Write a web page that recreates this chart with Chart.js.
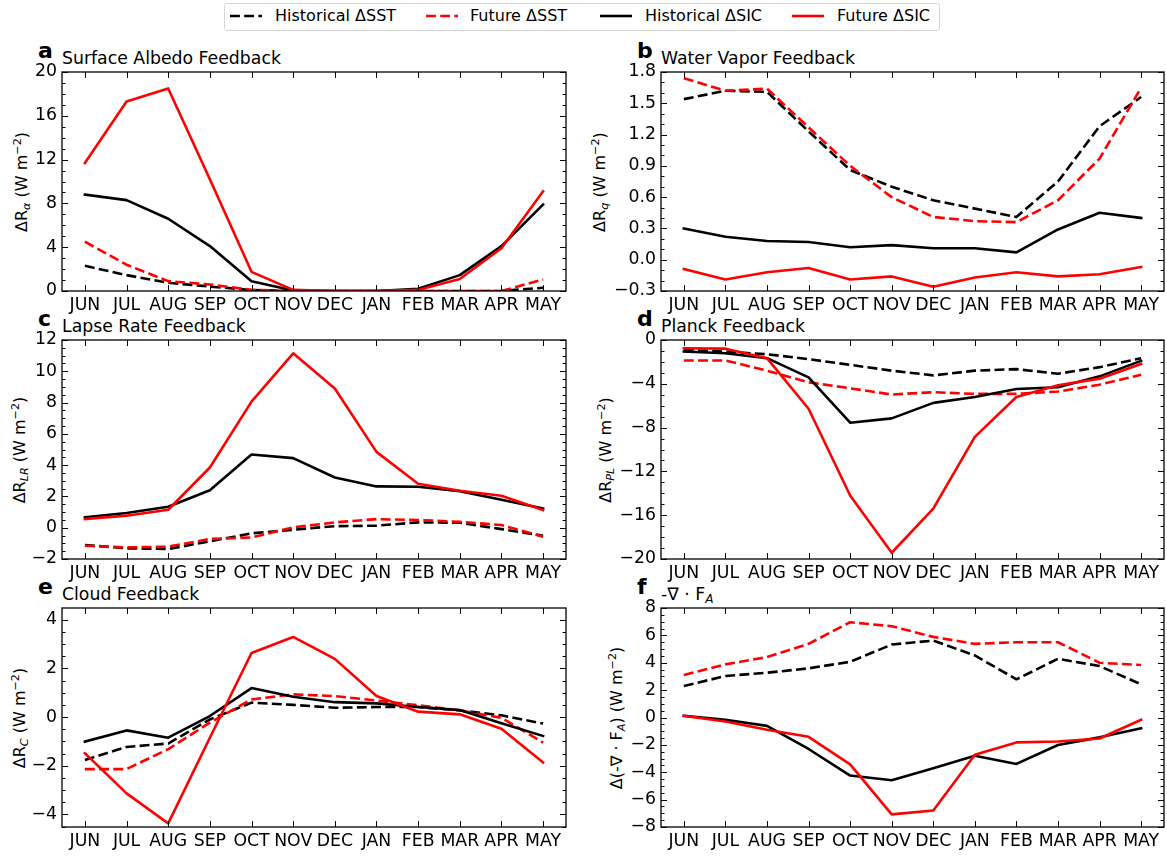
<!DOCTYPE html>
<html>
<head>
<meta charset="utf-8">
<script src="https://cdn.jsdelivr.net/npm/chart.js@4.4.0/dist/chart.umd.min.js"></script>
<style>
  body { margin: 0; width: 1167px; height: 856px; background: #fff; position: relative; overflow: hidden; font-family: "DejaVu Sans", sans-serif; color: #000; }
  canvas { position: absolute; }
  .txt { position: absolute; white-space: nowrap; line-height: 1; }
  .letter { font-size: 22px; font-weight: bold; }
  .title { font-size: 17.3px; }
  .ylab { position: absolute; font-size: 16px; line-height: 1; white-space: nowrap; transform: translate(-50%, -50%) rotate(-90deg); }
  sub { font-size: 70%; vertical-align: -0.28em; line-height: 0; }
  sup { font-size: 70%; vertical-align: 0.5em; line-height: 0; }
  .legend { position: absolute; left: 224px; top: 3px; width: 716px; height: 28px; box-sizing: border-box; border: 1px solid #d4d4d4; border-radius: 3px; }
  .leg { font-size: 16px; }
  svg.handle { position: absolute; }
</style>
</head>
<body>

<!-- legend -->
<div class="legend"></div>
<svg class="handle" style="left:229px;top:11px" width="34" height="10"><line x1="1" y1="5" x2="33" y2="5" stroke="#000" stroke-width="2.6" stroke-dasharray="9.9 4.3"/></svg>
<span class="txt leg" style="left:275px;top:7.5px">Historical ΔSST</span>
<svg class="handle" style="left:425px;top:11px" width="34" height="10"><line x1="1" y1="5" x2="33" y2="5" stroke="#f00" stroke-width="2.6" stroke-dasharray="9.9 4.3"/></svg>
<span class="txt leg" style="left:470px;top:7.5px">Future ΔSST</span>
<svg class="handle" style="left:599px;top:11px" width="34" height="10"><line x1="1" y1="5" x2="33" y2="5" stroke="#000" stroke-width="2.6"/></svg>
<span class="txt leg" style="left:645px;top:7.5px">Historical ΔSIC</span>
<svg class="handle" style="left:791px;top:11px" width="34" height="10"><line x1="1" y1="5" x2="33" y2="5" stroke="#f00" stroke-width="2.6"/></svg>
<span class="txt leg" style="left:837px;top:7.5px">Future ΔSIC</span>

<!-- panel letters and titles -->
<span class="txt letter" style="left:38px;top:40px">a</span>
<span class="txt title" style="left:62px;top:50px">Surface Albedo Feedback</span>
<span class="txt letter" style="left:637px;top:40px">b</span>
<span class="txt title" style="left:661px;top:50px">Water Vapor Feedback</span>
<span class="txt letter" style="left:38px;top:308px">c</span>
<span class="txt title" style="left:62px;top:318px">Lapse Rate Feedback</span>
<span class="txt letter" style="left:637px;top:308px">d</span>
<span class="txt title" style="left:661px;top:318px">Planck Feedback</span>
<span class="txt letter" style="left:38px;top:576px">e</span>
<span class="txt title" style="left:62px;top:586px">Cloud Feedback</span>
<span class="txt letter" style="left:637px;top:576px">f</span>
<span class="txt title" style="left:661px;top:586px">-∇ · F<sub><i>A</i></sub></span>

<!-- y axis labels -->
<div class="ylab" style="left:22px;top:181.5px">ΔR<sub><i>α</i></sub> (W m<sup>−2</sup>)</div>
<div class="ylab" style="left:600px;top:181.5px">ΔR<sub><i>q</i></sub> (W m<sup>−2</sup>)</div>
<div class="ylab" style="left:20px;top:449.5px">ΔR<sub><i>LR</i></sub> (W m<sup>−2</sup>)</div>
<div class="ylab" style="left:606px;top:449.5px">ΔR<sub><i>PL</i></sub> (W m<sup>−2</sup>)</div>
<div class="ylab" style="left:20px;top:717.5px">ΔR<sub><i>C</i></sub> (W m<sup>−2</sup>)</div>
<div class="ylab" style="left:617px;top:717.5px">Δ(-∇ · F<sub><i>A</i></sub>) (W m<sup>−2</sup>)</div>

<script>
// months on the x axis
const MONTHS = ['JUN', 'JUL', 'AUG', 'SEP', 'OCT', 'NOV', 'DEC', 'JAN', 'FEB', 'MAR', 'APR', 'MAY'];

// a - surface albedo feedback
const albedoHistSST = [2.3, 1.45, 0.75, 0.4, 0.1, 0, 0, 0, 0, 0, 0, 0.3];
const albedoFutSST  = [4.5, 2.4, 0.9, 0.6, 0.1, 0, 0, 0, 0, 0, 0, 1.05];
const albedoHistSIC = [8.8, 8.3, 6.6, 4.1, 0.9, 0.05, 0, 0, 0.2, 1.45, 4.1, 7.9];
const albedoFutSIC  = [11.7, 17.3, 18.5, 10.2, 1.75, 0.1, 0, 0, 0.1, 1.1, 3.9, 9.1];

// b - water vapor feedback
const vaporHistSST = [1.54, 1.62, 1.61, 1.23, 0.86, 0.70, 0.57, 0.49, 0.41, 0.75, 1.28, 1.56];
const vaporFutSST  = [1.74, 1.62, 1.64, 1.27, 0.90, 0.60, 0.41, 0.37, 0.36, 0.57, 0.97, 1.65];
const vaporHistSIC = [0.30, 0.22, 0.18, 0.17, 0.12, 0.14, 0.11, 0.11, 0.07, 0.29, 0.45, 0.40];
const vaporFutSIC  = [-0.09, -0.19, -0.12, -0.08, -0.19, -0.16, -0.26, -0.17, -0.12, -0.16, -0.14, -0.07];

// c - lapse rate feedback
const lapseHistSST = [-1.1, -1.32, -1.36, -0.87, -0.36, -0.13, 0.1, 0.13, 0.34, 0.32, -0.09, -0.51];
const lapseFutSST  = [-1.15, -1.26, -1.21, -0.72, -0.62, 0.02, 0.34, 0.55, 0.49, 0.38, 0.17, -0.57];
const lapseHistSIC = [0.66, 0.94, 1.34, 2.4, 4.68, 4.45, 3.21, 2.64, 2.62, 2.34, 1.79, 1.23];
const lapseFutSIC  = [0.55, 0.77, 1.15, 3.85, 8.06, 11.15, 8.9, 4.85, 2.81, 2.36, 2.04, 1.13];

// d - planck feedback
const planckHistSST = [-0.9, -1.06, -1.3, -1.75, -2.27, -2.8, -3.23, -2.8, -2.66, -3.08, -2.48, -1.66];
const planckFutSST  = [-1.87, -1.87, -2.8, -3.87, -4.41, -4.98, -4.77, -4.92, -4.92, -4.71, -4.08, -3.17];
const planckHistSIC = [-1.06, -1.21, -1.66, -3.41, -7.55, -7.16, -5.74, -5.2, -4.47, -4.32, -3.32, -1.9];
const planckFutSIC  = [-0.76, -0.79, -1.66, -6.28, -14.2, -19.43, -15.4, -8.85, -5.2, -4.14, -3.53, -2.18];

// e - cloud feedback
const cloudHistSST = [-1.77, -1.23, -1.09, -0.1, 0.59, 0.5, 0.38, 0.41, 0.41, 0.27, 0.07, -0.27];
const cloudFutSST  = [-2.14, -2.14, -1.32, -0.23, 0.72, 0.93, 0.86, 0.68, 0.48, 0.27, -0.03, -1.05];
const cloudHistSIC = [-1.01, -0.55, -0.85, 0.04, 1.19, 0.83, 0.61, 0.56, 0.41, 0.29, -0.26, -0.78];
const cloudFutSIC  = [-1.49, -3.14, -4.37, -0.85, 2.63, 3.29, 2.39, 0.86, 0.22, 0.11, -0.48, -1.87];

// f - atmospheric heat convergence
const convHistSST = [2.3, 3.03, 3.27, 3.59, 4.07, 5.33, 5.62, 4.53, 2.79, 4.29, 3.76, 2.42];
const convFutSST  = [3.1, 3.88, 4.41, 5.38, 6.96, 6.67, 5.89, 5.38, 5.5, 5.5, 4.0, 3.83];
const convHistSIC = [0.12, -0.17, -0.61, -2.3, -4.24, -4.58, -3.71, -2.79, -3.39, -2.01, -1.45, -0.78];
const convFutSIC  = [0.12, -0.29, -0.9, -1.41, -3.42, -7.08, -6.79, -2.72, -1.82, -1.75, -1.53, -0.17];

// y axis limits / ticks per panel (a..f)
const Y_MIN   = [0, -0.3, -2, -20, -4.52, -8];
const Y_MAX   = [20, 1.8, 12, 0, 4.48, 8];
const Y_STEP  = [4, 0.3, 2, 4, 2, 2];
const Y_MINOR = [1, 0.1, 0.5, 1, 0.5, 0.5];
const Y_DEC   = [0, 1, 0, 0, 0, 0];

Chart.defaults.font.family = 'DejaVu Sans';
Chart.defaults.color = '#000';

const DASH = [9.9, 4.3];

// matplotlib-ish box with inward ticks on all sides
const boxTicks = {
  id: 'boxTicks',
  afterDraw(chart, args, opts) {
    const { ctx, chartArea: a, scales: { x, y } } = chart;
    ctx.save();
    ctx.strokeStyle = '#000';
    ctx.lineWidth = 1;
    ctx.beginPath();
    x.ticks.forEach(t => {
      const px = Math.round(x.getPixelForValue(t.value)) + 0.5;
      ctx.moveTo(px, a.bottom); ctx.lineTo(px, a.bottom - 6);
      ctx.moveTo(px, a.top); ctx.lineTo(px, a.top + 6);
    });
    const m = opts.minor;
    for (let k = Math.ceil(y.min / m - 1e-6); k * m <= y.max + 1e-6; k++) {
      const v = k * m;
      const major = y.ticks.some(t => Math.abs(t.value - v) < 1e-6);
      const len = major ? 6 : 3.5;
      const py = Math.round(y.getPixelForValue(v)) + 0.5;
      ctx.moveTo(a.left, py); ctx.lineTo(a.left + len, py);
      ctx.moveTo(a.right, py); ctx.lineTo(a.right - len, py);
    }
    ctx.stroke();
    ctx.lineWidth = 1.3;
    ctx.strokeRect(a.left, a.top, a.right - a.left, a.bottom - a.top);
    ctx.restore();
  }
};

function line(values, color, dash, order) {
  return {
    data: values.map((v, i) => ({ x: i, y: v })),
    borderColor: color,
    borderWidth: 2.6,
    borderDash: dash,
    borderCapStyle: dash.length ? 'butt' : 'square',
    borderJoinStyle: 'round',
    pointRadius: 0,
    fill: false,
    clip: 0,
    order: order
  };
}

const PANEL_SERIES = [
  [albedoHistSST, albedoFutSST, albedoHistSIC, albedoFutSIC],
  [vaporHistSST, vaporFutSST, vaporHistSIC, vaporFutSIC],
  [lapseHistSST, lapseFutSST, lapseHistSIC, lapseFutSIC],
  [planckHistSST, planckFutSST, planckHistSIC, planckFutSIC],
  [cloudHistSST, cloudFutSST, cloudHistSIC, cloudFutSIC],
  [convHistSST, convFutSST, convHistSIC, convFutSIC]
];

PANEL_SERIES.forEach((sets, p) => {
  const rightCol = p % 2 === 1;
  const row = Math.floor(p / 2);
  const cv = document.createElement('canvas');
  cv.width = rightCol ? 587 : 580;
  cv.height = 279;
  cv.style.left = (rightCol ? 580 : 0) + 'px';
  cv.style.top = (40 + row * 268) + 'px';
  document.body.appendChild(cv);

  const yAxisW = rightCol ? 81 : 62;
  const dec = Y_DEC[p];

  new Chart(cv, {
    type: 'line',
    data: {
      datasets: [
        line(sets[0], '#000', DASH, 3),
        line(sets[1], '#ff0000', DASH, 2),
        line(sets[2], '#000', [], 1),
        line(sets[3], '#ff0000', [], 0)
      ]
    },
    options: {
      responsive: false,
      animation: false,
      devicePixelRatio: 1,
      layout: { padding: { top: 32, right: rightCol ? 3 : 14, left: 0, bottom: 0 } },
      plugins: { legend: { display: false }, tooltip: { enabled: false }, boxTicks: { minor: Y_MINOR[p] } },
      scales: {
        x: {
          type: 'linear',
          min: -0.55,
          max: 11.55,
          grid: { display: false, drawTicks: false },
          border: { display: false },
          ticks: {
            stepSize: 1,
            includeBounds: false,
            autoSkip: false,
            maxRotation: 0,
            padding: 4,
            font: { size: 17.3 },
            callback: v => MONTHS[v] || ''
          },
          afterFit: s => { s.height = 28; }
        },
        y: {
          min: Y_MIN[p],
          max: Y_MAX[p],
          grid: { display: false, drawTicks: false },
          border: { display: false },
          ticks: {
            stepSize: Y_STEP[p],
            includeBounds: false,
            padding: 5,
            font: { size: 17.3 },
            callback: v => {
              const n = Math.abs(v) < 1e-9 ? 0 : v;
              return n.toFixed(dec).replace('-', '\u2212');
            }
          },
          afterFit: s => { s.width = yAxisW; }
        }
      }
    },
    plugins: [boxTicks]
  });
});
</script>
</body>
</html>
